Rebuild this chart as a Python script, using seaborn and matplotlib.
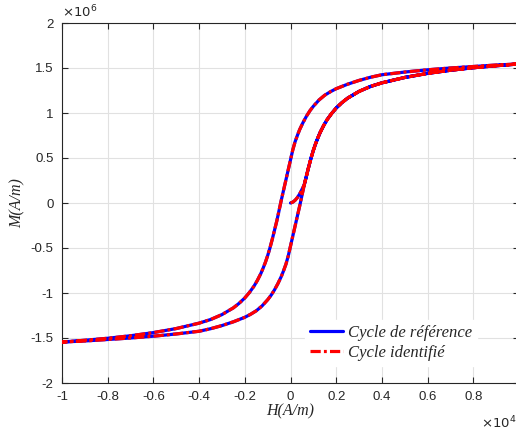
import numpy as np
import pandas as pd
import matplotlib
matplotlib.use("Agg")
import matplotlib.pyplot as plt
import seaborn as sns
from matplotlib.ticker import FuncFormatter

# ---- data (H in units of 1e4 A/m, M in units of 1e6 A/m) ----
# initial magnetisation curve
H_init = [0.0, 0.01, 0.02, 0.03, 0.04, 0.05, 0.06]
M_init = [0.0, 0.01, 0.03, 0.06, 0.10, 0.15, 0.20]

# descending branch (from +Hmax to -Hmax)
H_desc = [1.0, 0.9, 0.8, 0.7, 0.6, 0.5, 0.4, 0.35, 0.3, 0.25, 0.2, 0.175, 0.15, 0.125,
          0.1, 0.085, 0.07, 0.055, 0.04, 0.03, 0.02, 0.01, 0.0, -0.01, -0.02, -0.03,
          -0.04, -0.05, -0.06, -0.07, -0.08, -0.09, -0.1, -0.11, -0.12, -0.13, -0.145,
          -0.16, -0.18, -0.2, -0.225, -0.25, -0.3, -0.35, -0.4, -0.5, -0.6, -0.7, -0.8,
          -0.9, -1.0]
M_desc = [1.545, 1.533, 1.517, 1.50, 1.48, 1.455, 1.425, 1.397, 1.362, 1.32, 1.27, 1.237,
          1.198, 1.145, 1.075, 1.025, 0.965, 0.895, 0.815, 0.75, 0.68, 0.59, 0.48, 0.375,
          0.265, 0.15, 0.035, -0.085, -0.2, -0.305, -0.405, -0.5, -0.585, -0.66, -0.725,
          -0.785, -0.86, -0.925, -0.995, -1.055, -1.115, -1.165, -1.24, -1.295, -1.335,
          -1.395, -1.44, -1.475, -1.503, -1.525, -1.545]

# ascending branch (from -Hmax to +Hmax)
H_asc = [-1.0, -0.9, -0.8, -0.7, -0.6, -0.5, -0.4, -0.35, -0.3, -0.25, -0.2, -0.175,
         -0.15, -0.125, -0.1, -0.085, -0.07, -0.055, -0.04, -0.03, -0.02, -0.01, 0.0,
         0.01, 0.02, 0.03, 0.04, 0.05, 0.06, 0.07, 0.08, 0.09, 0.1, 0.11, 0.12, 0.13,
         0.145, 0.16, 0.18, 0.2, 0.225, 0.25, 0.3, 0.35, 0.4, 0.5, 0.6, 0.7, 0.8, 0.9, 1.0]
M_asc = [-1.545, -1.533, -1.517, -1.50, -1.48, -1.455, -1.425, -1.397, -1.362, -1.32,
         -1.27, -1.237, -1.198, -1.145, -1.075, -1.025, -0.965, -0.895, -0.815, -0.75,
         -0.68, -0.59, -0.48, -0.375, -0.265, -0.15, -0.035, 0.085, 0.2, 0.305, 0.405,
         0.5, 0.585, 0.66, 0.725, 0.785, 0.86, 0.925, 0.995, 1.055, 1.115, 1.165, 1.24,
         1.295, 1.335, 1.395, 1.44, 1.475, 1.503, 1.525, 1.545]

labels = ["Cycle de référence", "Cycle identifié"]
x_ticks = [-1.0, -0.8, -0.6, -0.4, -0.2, 0.0, 0.2, 0.4, 0.6, 0.8, 1.0]
y_ticks = [-2.0, -1.5, -1.0, -0.5, 0.0, 0.5, 1.0, 1.5, 2.0]
x_scale, y_scale = 1e4, 1e6

# full trajectory: initial curve -> rest of ascending -> descending -> ascending
H_tail = [h for h in H_asc if h > H_init[-1]]
M_tail = [m for h, m in zip(H_asc, M_asc) if h > H_init[-1]]
H_all = np.array(H_init + H_tail + H_desc + H_asc) * x_scale
M_all = np.array(M_init + M_tail + M_desc + M_asc) * y_scale

df = pd.DataFrame({"H": H_all, "M": M_all})

sns.set_theme(style="whitegrid")
plt.rcParams["axes.unicode_minus"] = False
plt.rcParams["font.family"] = ["Liberation Sans", "DejaVu Sans"]

fig = plt.figure(figsize=(5.16, 4.32), dpi=100)
W, Hh = 516.0, 432.0
ax = fig.add_axes([62 / W, (Hh - 383) / Hh, 457 / W, 360 / Hh])
ax.set_facecolor("white")

sns.lineplot(data=df, x="H", y="M", sort=False, estimator=None, ax=ax,
             color="#0000ff", lw=2.3, label=labels[0], zorder=3)
sns.lineplot(data=df, x="H", y="M", sort=False, estimator=None, ax=ax,
             color="#ff0000", lw=2.3, label=labels[1], zorder=4)
ax.lines[1].set_dashes((3.2, 1.0, 0.9, 1.0))

ax.set_xlim(x_ticks[0] * x_scale, x_ticks[-1] * x_scale)
ax.set_ylim(y_ticks[0] * y_scale, y_ticks[-1] * y_scale)
ax.set_xticks([t * x_scale for t in x_ticks])
ax.set_yticks([t * y_scale for t in y_ticks])


def fx(v, p):
    if v >= x_ticks[-1] * x_scale - 1:
        return ""  # clipped at the figure edge in the reference
    return "%g" % round(v / x_scale, 2)


ax.xaxis.set_major_formatter(FuncFormatter(fx))
ax.yaxis.set_major_formatter(FuncFormatter(lambda v, p: "%g" % round(v / y_scale, 2)))

axcol = "#262626"
ax.grid(True, color="#e1e1e1", lw=0.8)
for s in ax.spines.values():
    s.set_visible(True)
    s.set_color(axcol)
    s.set_linewidth(0.8)
ax.tick_params(axis="both", which="major", direction="in", length=4, width=0.8,
               color=axcol, labelcolor=axcol, labelsize=9.5,
               top=True, right=True, bottom=True, left=True, pad=6)

serif = ["Liberation Serif", "DejaVu Serif"]
ax.set_xlabel("H(A/m)", fontsize=11.5, fontstyle="italic", family=serif,
              color=axcol, labelpad=0)
ax.set_ylabel("M(A/m)", fontsize=11.5, fontstyle="italic", family=serif,
              color=axcol, labelpad=4)

fig.text(62 / W, (Hh - 12) / Hh, r"$\times10^{6}$", fontsize=9.5, color=axcol,
         ha="left", va="center", family=["DejaVu Sans"])
fig.text(481 / W, (Hh - 423) / Hh, r"$\times10^{4}$", fontsize=9.5, color=axcol,
         ha="left", va="center", family=["DejaVu Sans"])

leg = ax.legend(loc="center left", bbox_to_anchor=(297 / W, (Hh - 343) / Hh),
                bbox_transform=fig.transFigure,
                frameon=True, fancybox=False, framealpha=1,
                facecolor="white", edgecolor="white", handlelength=1.95,
                handletextpad=0.3, borderpad=0.3, labelspacing=0.22,
                prop={"family": serif, "style": "italic", "size": 12})
leg.set_zorder(10)

fig.savefig("out.png", dpi=100)
